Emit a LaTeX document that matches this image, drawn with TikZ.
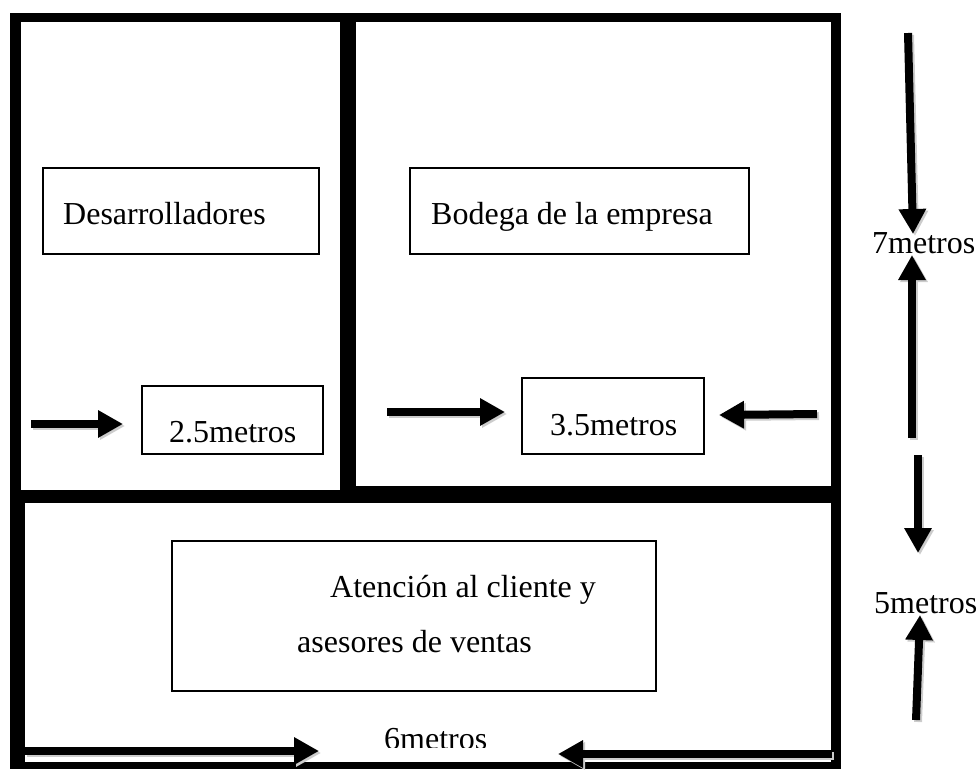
\documentclass[tikz,border=0pt]{standalone}
\usepackage{fontspec}
\setmainfont{Liberation Serif}
\usetikzlibrary{arrows.meta}
\begin{document}
\begin{tikzpicture}[line cap=butt,line join=miter,x=1pt,y=-1pt,>={Triangle[length=25pt,width=26pt]}]
\tikzstyle{myarrow}= [line width=8pt,->];
\tikzstyle{myshadow}= [line width=8pt,->,color=black!20];
\tikzstyle{mybox}= [line width=1.3pt];
\tikzstyle{mylabel}= [anchor=base west,inner sep=0pt,font=\fontsize{32}{32}\selectfont];
\useasboundingbox (0,0) rectangle (979,769);
% walls
\fill [color=black] (10,13) rectangle (841,769);
\fill [color=white] (21,22) rectangle (340,490);
\fill [color=white] (356,22) rectangle (831,486);
\fill [color=white] (25,503) rectangle (831,762);
% boxes
\draw [mybox] (43,168) rectangle (319,254);
\draw [mybox] (410,168) rectangle (749,254);
\draw [mybox] (142,386) rectangle (323,454);
\draw [mybox] (522,378) rectangle (704,454);
\draw [mybox] (172,541) rectangle (656,691);
% texts
\node [mylabel] (desarrollo) at (63,224) {Desarrolladores};
\node [mylabel] (bodega) at (431,224) {Bodega de la empresa};
\node [mylabel] (anchoa) at (169,442) {2.5metros};
\node [mylabel] (anchob) at (550,435) {3.5metros};
\node [mylabel] (atencion) at (330,597) {Atención al cliente y};
\node [mylabel] (asesores) at (297,652) {asesores de ventas};
\node [mylabel] (altoa) at (872,253) {7metros};
\node [mylabel] (altob) at (874,613) {5metros};
\begin{scope}
\clip (380,720) rectangle (490,747);
\node [mylabel] (ancho) at (384,749) {6metros};
\end{scope}
% arrows
\coordinate (a1) at (31,424);
\coordinate (a2) at (123,424);
\coordinate (b1) at (387,412);
\coordinate (b2) at (505,412);
\coordinate (c1) at (817,414);
\coordinate (c2) at (719,415);
\coordinate (d1) at (908,33);
\coordinate (d2) at (913,234);
\coordinate (e1) at (912,438);
\coordinate (e2) at (912,255);
\coordinate (f1) at (918,455);
\coordinate (f2) at (918,553);
\coordinate (g1) at (916,720);
\coordinate (g2) at (920,615);
\coordinate (h1) at (25,751);
\coordinate (h2) at (319,751);
\coordinate (i1) at (832,754);
\coordinate (i2) at (558,754);
\foreach \p/\q in {a1/a2,b1/b2,c1/c2,d1/d2,e1/e2,f1/f2,g1/g2,h1/h2,i1/i2}
{
\draw [myshadow] ([shift={(2,2)}]\p)-- ([shift={(2,2)}]\q);
\draw [myarrow] (\p)-- (\q);
}
\end{tikzpicture}
\end{document}
